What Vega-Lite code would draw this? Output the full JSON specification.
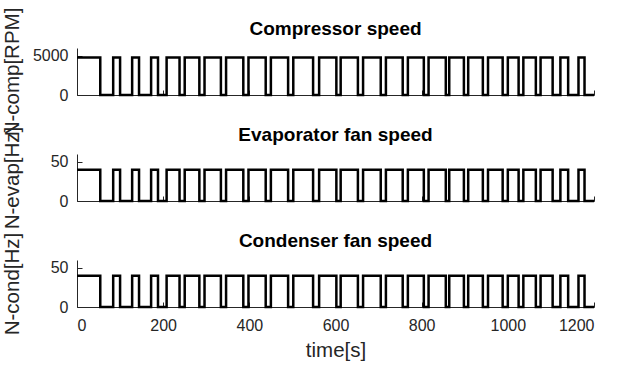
{
  "$schema": "https://vega.github.io/schema/vega-lite/v6.json",
  "background": "white",
  "padding": {"left": 2, "top": 7, "right": 3, "bottom": 0},
  "bounds": "flush",
  "spacing": 59,
  "config": {
    "view": {"stroke": null},
    "font": "Liberation Sans",
    "title": {"fontSize": 19, "fontWeight": "bold", "color": "#000000", "font": "Liberation Sans"},
    "axis": {"domainColor": "#262626", "domainWidth": 1, "tickColor": "#262626", "labelColor": "#262626", "titleColor": "#262626", "labelFont": "Liberation Sans", "titleFont": "Liberation Sans", "labelFontSize": 16, "titleFontSize": 20.5, "titleFontWeight": "normal", "grid": false, "tickSize": -5, "format": "d"},
    "axisY": {"labelPadding": 14},
    "axisX": {"labelPadding": 15}
  },
  "datasets": {
    "speeds": [
      {"t": 0, "comp": 4800, "evap": 40, "cond": 40},
      {"t": 54, "comp": 0, "evap": 0, "cond": 0},
      {"t": 84, "comp": 4800, "evap": 40, "cond": 40},
      {"t": 100, "comp": 0, "evap": 0, "cond": 0},
      {"t": 128, "comp": 4800, "evap": 40, "cond": 40},
      {"t": 144, "comp": 0, "evap": 0, "cond": 0},
      {"t": 172, "comp": 4800, "evap": 40, "cond": 40},
      {"t": 188, "comp": 0, "evap": 0, "cond": 0},
      {"t": 208, "comp": 4800, "evap": 40, "cond": 40},
      {"t": 238, "comp": 0, "evap": 0, "cond": 0},
      {"t": 250, "comp": 4800, "evap": 40, "cond": 40},
      {"t": 284, "comp": 0, "evap": 0, "cond": 0},
      {"t": 296, "comp": 4800, "evap": 40, "cond": 40},
      {"t": 334, "comp": 0, "evap": 0, "cond": 0},
      {"t": 346, "comp": 4800, "evap": 40, "cond": 40},
      {"t": 386, "comp": 0, "evap": 0, "cond": 0},
      {"t": 398, "comp": 4800, "evap": 40, "cond": 40},
      {"t": 438, "comp": 0, "evap": 0, "cond": 0},
      {"t": 450, "comp": 4800, "evap": 40, "cond": 40},
      {"t": 490, "comp": 0, "evap": 0, "cond": 0},
      {"t": 502, "comp": 4800, "evap": 40, "cond": 40},
      {"t": 548, "comp": 0, "evap": 0, "cond": 0},
      {"t": 562, "comp": 4800, "evap": 40, "cond": 40},
      {"t": 602, "comp": 0, "evap": 0, "cond": 0},
      {"t": 612, "comp": 4800, "evap": 40, "cond": 40},
      {"t": 652, "comp": 0, "evap": 0, "cond": 0},
      {"t": 664, "comp": 4800, "evap": 40, "cond": 40},
      {"t": 705, "comp": 0, "evap": 0, "cond": 0},
      {"t": 717, "comp": 4800, "evap": 40, "cond": 40},
      {"t": 756, "comp": 0, "evap": 0, "cond": 0},
      {"t": 768, "comp": 4800, "evap": 40, "cond": 40},
      {"t": 805, "comp": 0, "evap": 0, "cond": 0},
      {"t": 816, "comp": 4800, "evap": 40, "cond": 40},
      {"t": 856, "comp": 0, "evap": 0, "cond": 0},
      {"t": 864, "comp": 4800, "evap": 40, "cond": 40},
      {"t": 898, "comp": 0, "evap": 0, "cond": 0},
      {"t": 908, "comp": 4800, "evap": 40, "cond": 40},
      {"t": 942, "comp": 0, "evap": 0, "cond": 0},
      {"t": 954, "comp": 4800, "evap": 40, "cond": 40},
      {"t": 988, "comp": 0, "evap": 0, "cond": 0},
      {"t": 1000, "comp": 4800, "evap": 40, "cond": 40},
      {"t": 1025, "comp": 0, "evap": 0, "cond": 0},
      {"t": 1036, "comp": 4800, "evap": 40, "cond": 40},
      {"t": 1065, "comp": 0, "evap": 0, "cond": 0},
      {"t": 1076, "comp": 4800, "evap": 40, "cond": 40},
      {"t": 1104, "comp": 0, "evap": 0, "cond": 0},
      {"t": 1122, "comp": 4800, "evap": 40, "cond": 40},
      {"t": 1140, "comp": 0, "evap": 0, "cond": 0},
      {"t": 1164, "comp": 4800, "evap": 40, "cond": 40},
      {"t": 1178, "comp": 0, "evap": 0, "cond": 0},
      {"t": 1200, "comp": 0, "evap": 0, "cond": 0}
    ]
  },
  "vconcat": [
    {
      "title": {"text": "Compressor speed", "offset": -32},
      "width": 517, "height": 47,
      "data": {"name": "speeds"},
      "mark": {"type": "line", "interpolate": "step-after", "color": "#000000", "strokeWidth": 2.5, "strokeJoin": "miter"},
      "encoding": {
        "x": {"field": "t", "type": "quantitative", "scale": {"domain": [0, 1200], "nice": false}, "axis": {"labels": false, "title": null, "values": [0, 200, 400, 600, 800, 1000, 1200]}},
        "y": {"field": "comp", "type": "quantitative", "scale": {"domain": [0, 6000], "nice": false}, "axis": {"values": [0, 5000], "title": "N-comp[RPM]", "titleX": -55, "titleY": 23.5, "titleAngle": -90}}
      }
    },
    {
      "title": {"text": "Evaporator fan speed", "offset": -19},
      "width": 517, "height": 47,
      "data": {"name": "speeds"},
      "mark": {"type": "line", "interpolate": "step-after", "color": "#000000", "strokeWidth": 2.5, "strokeJoin": "miter"},
      "encoding": {
        "x": {"field": "t", "type": "quantitative", "scale": {"domain": [0, 1200], "nice": false}, "axis": {"labels": false, "title": null, "values": [0, 200, 400, 600, 800, 1000, 1200]}},
        "y": {"field": "evap", "type": "quantitative", "scale": {"domain": [0, 60], "nice": false}, "axis": {"values": [0, 50], "title": "N-evap[Hz]", "titleX": -55, "titleY": 23.5, "titleAngle": -90}}
      }
    },
    {
      "title": {"text": "Condenser fan speed", "offset": -19},
      "width": 517, "height": 47,
      "data": {"name": "speeds"},
      "mark": {"type": "line", "interpolate": "step-after", "color": "#000000", "strokeWidth": 2.5, "strokeJoin": "miter"},
      "encoding": {
        "x": {"field": "t", "type": "quantitative", "scale": {"domain": [0, 1200], "nice": false}, "axis": {"title": "time[s]", "values": [0, 200, 400, 600, 800, 1000, 1200], "titlePadding": 7}},
        "y": {"field": "cond", "type": "quantitative", "scale": {"domain": [0, 60], "nice": false}, "axis": {"values": [0, 50], "title": "N-cond[Hz]", "titleX": -55, "titleY": 23.5, "titleAngle": -90}}
      }
    }
  ]
}
